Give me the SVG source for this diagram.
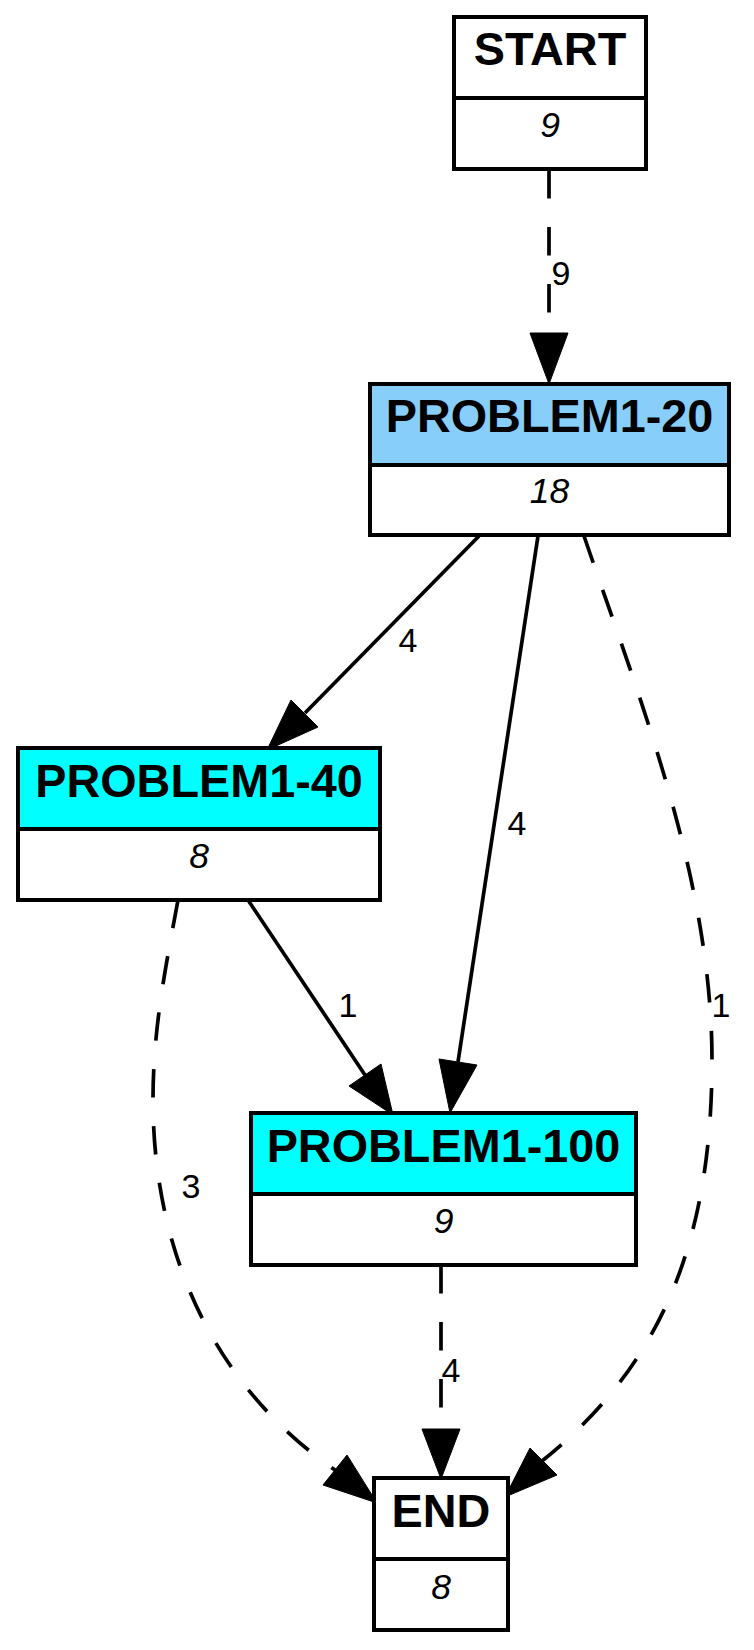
<svg xmlns="http://www.w3.org/2000/svg" width="754" height="1650" viewBox="0 0 754 1650">
<style>
.box{fill:#ffffff;stroke:#000;stroke-width:4}
.div{stroke:#000;stroke-width:4}
.title{font-family:"Liberation Sans",Arial,sans-serif;font-weight:bold;font-size:46.8px;text-anchor:middle;fill:#000}
.val{font-family:"Liberation Sans",Arial,sans-serif;font-style:italic;font-size:35.5px;text-anchor:middle;fill:#000}
.edge{fill:none;stroke:#000;stroke-width:3.7}
.dash{stroke-dasharray:28.5 28.5}
.head{fill:#000;stroke:#000;stroke-width:1}
.elabel{font-family:"Liberation Sans",Arial,sans-serif;font-size:34px;text-anchor:middle;fill:#000}
</style>
<rect width="754" height="1650" fill="#ffffff"/>
<g id="edges">
  <g id="e-start-p20">
    <path class="edge dash" d="M549,170 L549,333"/>
    <polygon class="head" points="530,333 568,333 549,384"/>
    <text class="elabel" x="561" y="285">9</text>
  </g>
  <g id="e-p20-p40">
    <path class="edge" d="M479,536 L305,713"/>
    <polygon class="head" points="291,700 318,727 267,750"/>
    <text class="elabel" x="408" y="652">4</text>
  </g>
  <g id="e-p20-p100">
    <path class="edge" d="M538,536 L458,1062"/>
    <polygon class="head" points="439,1059 477,1065 450,1113"/>
    <text class="elabel" x="517" y="835">4</text>
  </g>
  <g id="e-p20-end">
    <path class="edge dash" d="M584,536 C640,700 712,880 712,1060 C712,1240 662,1365 542,1461"/>
    <polygon class="head" points="557,1475 530,1448 505,1497"/>
    <text class="elabel" x="721" y="1017">1</text>
  </g>
  <g id="e-p40-p100">
    <path class="edge" d="M248,900 L365,1075"/>
    <polygon class="head" points="349,1086 381,1064 393,1115"/>
    <text class="elabel" x="348" y="1017">1</text>
  </g>
  <g id="e-p40-end">
    <path class="edge dash" d="M178,900 C165,970 153,1030 153,1100 C153,1240 205,1380 335,1470"/>
    <polygon class="head" points="323,1485 347,1455 377,1503"/>
    <text class="elabel" x="191" y="1198">3</text>
  </g>
  <g id="e-p100-end">
    <path class="edge dash" d="M441,1265 L441,1429"/>
    <polygon class="head" points="422,1429 460,1429 441,1479"/>
    <text class="elabel" x="451" y="1382">4</text>
  </g>
</g>
<g id="node-start">
  <rect class="box" x="454" y="17" width="192" height="152"/>
  <line class="div" x1="454" y1="98" x2="646" y2="98"/>
  <text class="title" x="550" y="65">START</text>
  <text class="val" x="550" y="137">9</text>
</g>
<g id="node-p20">
  <rect class="box" x="370" y="384" width="359" height="151"/>
  <rect x="372" y="386" width="355" height="79" fill="#87cefa"/>
  <line class="div" x1="370" y1="465" x2="729" y2="465"/>
  <text class="title" x="549.5" y="432">PROBLEM1-20</text>
  <text class="val" x="549.5" y="503">18</text>
</g>
<g id="node-p40">
  <rect class="box" x="18" y="748" width="362" height="152"/>
  <rect x="20" y="750" width="358" height="79" fill="#00ffff"/>
  <line class="div" x1="18" y1="829" x2="380" y2="829"/>
  <text class="title" x="199" y="797">PROBLEM1-40</text>
  <text class="val" x="199" y="868">8</text>
</g>
<g id="node-p100">
  <rect class="box" x="251" y="1113" width="385" height="152"/>
  <rect x="253" y="1115" width="381" height="79" fill="#00ffff"/>
  <line class="div" x1="251" y1="1194" x2="636" y2="1194"/>
  <text class="title" x="443.5" y="1162">PROBLEM1-100</text>
  <text class="val" x="443.5" y="1233">9</text>
</g>
<g id="node-end">
  <rect class="box" x="374" y="1478" width="134" height="152"/>
  <line class="div" x1="374" y1="1559" x2="508" y2="1559"/>
  <text class="title" x="441" y="1527">END</text>
  <text class="val" x="441" y="1599">8</text>
</g>
</svg>
